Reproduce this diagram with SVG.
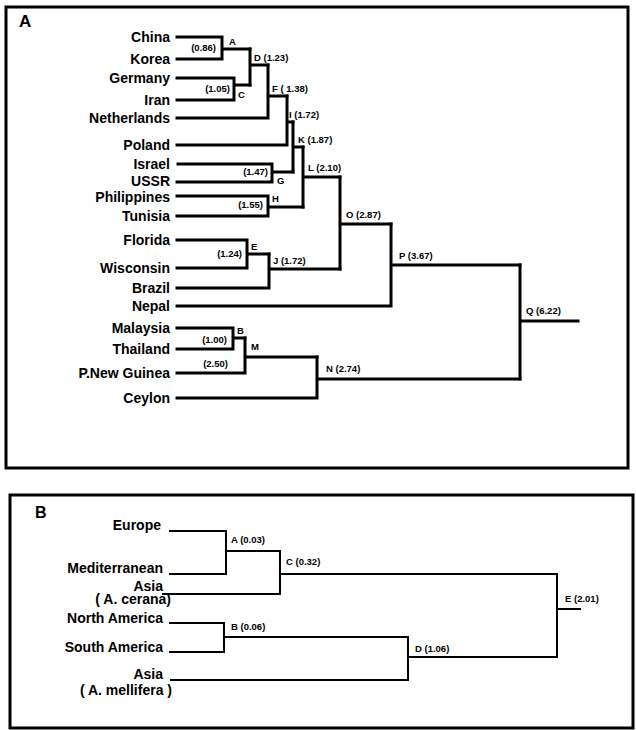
<svg xmlns="http://www.w3.org/2000/svg" width="636" height="730" viewBox="0 0 636 730">
<style>
.frame{fill:none;stroke:#000;stroke-width:3}
.ca{fill:none;stroke:#000;stroke-width:3;stroke-linecap:square}
.cb{fill:none;stroke:#000;stroke-width:2;stroke-linecap:square}
.leaf{font-family:"Liberation Sans",Arial,sans-serif;font-weight:bold;font-size:14px;fill:#000;text-anchor:end}
.nl{font-family:"Liberation Sans",Arial,sans-serif;font-weight:bold;font-size:9.5px;fill:#000}
.nr{font-family:"Liberation Sans",Arial,sans-serif;font-weight:bold;font-size:9.5px;fill:#000;text-anchor:end}
.panel{font-family:"Liberation Sans",Arial,sans-serif;font-weight:bold;font-size:17px;fill:#000}
</style>
<rect width="636" height="730" fill="#fff"/>
<rect class="frame" x="6" y="7" width="622" height="461"/>
<rect class="frame" x="10" y="495" width="623" height="233"/>
<text class="panel" x="19" y="27">A</text>
<text class="panel" x="35" y="518" style="font-size:16px">B</text>

<g id="connectors-a">
<path class="ca" d="M177 37H222M177 59H222M222 37V59M222 49H250"/>
<path class="ca" d="M177 78H234M177 100H234M234 78V100M234 85H250"/>
<path class="ca" d="M250 49V85M250 65H268"/>
<path class="ca" d="M177 118H268M268 65V118M268 96H287"/>
<path class="ca" d="M177 145H287M287 96V145M287 122H293"/>
<path class="ca" d="M178 164H272M177 182H272M272 164V182M272 172H293"/>
<path class="ca" d="M293 122V172M293 147H303"/>
<path class="ca" d="M177 196H268M177 216H268M268 196V216M268 207H303"/>
<path class="ca" d="M303 147V207M303 177H340"/>
<path class="ca" d="M177 240H247M177 268H247M247 240V268M247 254H269"/>
<path class="ca" d="M177 288H269M269 254V288M269 269H340"/>
<path class="ca" d="M340 177V269M340 224H391"/>
<path class="ca" d="M177 306H391M391 224V306M391 265H520"/>
<path class="ca" d="M177 328H233M177 349H233M233 328V349M233 338H245"/>
<path class="ca" d="M177 373H245M245 338V373M245 357H317"/>
<path class="ca" d="M177 398H317M317 357V398M317 379H520"/>
<path class="ca" d="M520 265V379M520 321H578"/>
</g>

<g id="leaves-a">
<g id="china"><text class="leaf" x="170" y="42">China</text></g>
<g id="korea"><text class="leaf" x="170" y="64">Korea</text></g>
<g id="germany"><text class="leaf" x="170" y="83">Germany</text></g>
<g id="iran"><text class="leaf" x="170" y="105">Iran</text></g>
<g id="netherlands"><text class="leaf" x="170" y="123">Netherlands</text></g>
<g id="poland"><text class="leaf" x="170" y="150">Poland</text></g>
<g id="israel"><text class="leaf" x="170" y="169">Israel</text></g>
<g id="ussr"><text class="leaf" x="170" y="186">USSR</text></g>
<g id="philippines"><text class="leaf" x="170" y="202">Philippines</text></g>
<g id="tunisia"><text class="leaf" x="170" y="221">Tunisia</text></g>
<g id="florida"><text class="leaf" x="170" y="245">Florida</text></g>
<g id="wisconsin"><text class="leaf" x="170" y="273">Wisconsin</text></g>
<g id="brazil"><text class="leaf" x="170" y="293">Brazil</text></g>
<g id="nepal"><text class="leaf" x="170" y="311">Nepal</text></g>
<g id="malaysia"><text class="leaf" x="170" y="333">Malaysia</text></g>
<g id="thailand"><text class="leaf" x="170" y="354">Thailand</text></g>
<g id="pnewguinea"><text class="leaf" x="170" y="378">P.New Guinea</text></g>
<g id="ceylon"><text class="leaf" x="170" y="403">Ceylon</text></g>
</g>

<g id="nodes-a">
<g id="a-A"><text class="nl" x="229" y="45">A</text><text class="nr" x="216" y="51">(0.86)</text></g>
<g id="a-C"><text class="nl" x="238" y="98">C</text><text class="nr" x="230" y="92">(1.05)</text></g>
<g id="a-D"><text class="nl" x="254" y="61">D (1.23)</text></g>
<g id="a-F"><text class="nl" x="272" y="92">F ( 1.38)</text></g>
<g id="a-I"><text class="nl" x="289" y="118">I (1.72)</text></g>
<g id="a-G"><text class="nl" x="277" y="184">G</text><text class="nr" x="268" y="175">(1.47)</text></g>
<g id="a-K"><text class="nl" x="298" y="143">K (1.87)</text></g>
<g id="a-H"><text class="nl" x="272" y="202">H</text><text class="nr" x="263" y="208">(1.55)</text></g>
<g id="a-L"><text class="nl" x="308" y="171">L (2.10)</text></g>
<g id="a-E"><text class="nl" x="251" y="250">E</text><text class="nr" x="242" y="257">(1.24)</text></g>
<g id="a-J"><text class="nl" x="273" y="264">J (1.72)</text></g>
<g id="a-O"><text class="nl" x="346" y="218">O (2.87)</text></g>
<g id="a-P"><text class="nl" x="399" y="259">P (3.67)</text></g>
<g id="a-B"><text class="nl" x="237" y="334">B</text><text class="nr" x="227" y="343">(1.00)</text></g>
<g id="a-M"><text class="nl" x="251" y="350">M</text><text class="nr" x="228" y="367">(2.50)</text></g>
<g id="a-N"><text class="nl" x="326" y="372">N (2.74)</text></g>
<g id="a-Q"><text class="nl" x="526" y="314">Q (6.22)</text></g>
</g>

<g id="connectors-b">
<path class="cb" d="M170 531H226M170 574H226M226 531V574M226 551H280"/>
<path class="cb" d="M163 594H280M280 551V594M280 574H557"/>
<path class="cb" d="M170 623H224M170 652H224M224 623V652M224 637H408"/>
<path class="cb" d="M171 680H408M408 637V680M408 657H557"/>
<path class="cb" d="M557 574V657M557 609H580"/>
</g>

<g id="leaves-b">
<g id="europe"><text class="leaf" x="161" y="530">Europe</text></g>
<g id="mediterranean"><text class="leaf" x="163" y="573">Mediterranean</text></g>
<g id="asia-cerana"><text class="leaf" x="163" y="591">Asia</text><text class="leaf" x="171" y="604">( A. cerana)</text></g>
<g id="north-america"><text class="leaf" x="163" y="623">North America</text></g>
<g id="south-america"><text class="leaf" x="163" y="652">South America</text></g>
<g id="asia-mellifera"><text class="leaf" x="163" y="679">Asia</text><text class="leaf" x="172" y="695">( A. mellifera )</text></g>
</g>

<g id="nodes-b">
<g id="b-A"><text class="nl" x="231" y="543">A (0.03)</text></g>
<g id="b-C"><text class="nl" x="286" y="565">C (0.32)</text></g>
<g id="b-B"><text class="nl" x="231" y="630">B (0.06)</text></g>
<g id="b-D"><text class="nl" x="415" y="652">D (1.06)</text></g>
<g id="b-E"><text class="nl" x="565" y="602">E (2.01)</text></g>
</g>
</svg>
